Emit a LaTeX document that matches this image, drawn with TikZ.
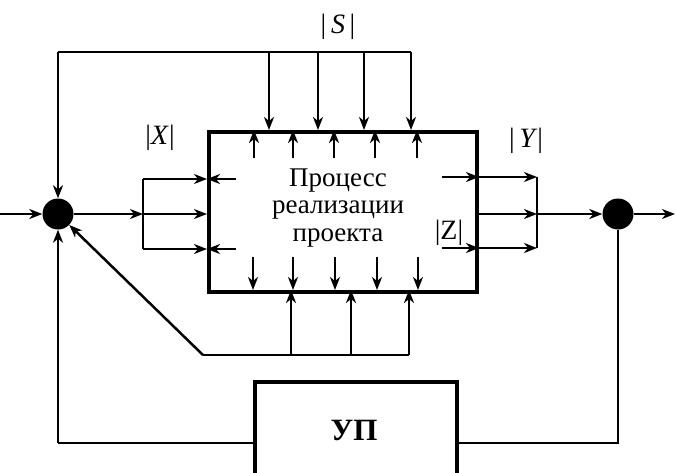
\documentclass[tikz,border=0pt]{standalone}
\usepackage{fontspec}
\setmainfont{Liberation Serif}
\usetikzlibrary{arrows.meta}
\begin{document}
\begin{tikzpicture}[x=1pt,y=-1pt,
  ln/.style={line width=2.5pt},
  arr/.style={line width=2.5pt,-{Stealth[length=13pt,width=10pt,inset=4pt]}},
  dot/.style={circle,fill=black,minimum size=31pt,inner sep=0pt},
  lbl/.style={font=\fontsize{28}{28}\selectfont,inner sep=0pt}]
\useasboundingbox (0,0) rectangle (675,472);
% main box
\node[draw,line width=4pt,minimum width=268pt,minimum height=160pt,anchor=north west,inner sep=0pt] (proc) at (207,130) {};
\node[font=\fontsize{27}{27.5}\selectfont,align=center,inner sep=0pt] (txt) at (338,208) {Процесс\\реализации\\проекта};
% circles
\node[dot] (c1) at (58,214) {};
\node[dot] (c2) at (618,214) {};
% control box
\node[draw,line width=4pt,minimum width=202pt,minimum height=100pt,anchor=north west,inner sep=0pt] (up) at (253,380) {};
\node[font=\fontsize{31}{31}\selectfont\bfseries,inner sep=0pt] (uptxt) at (354,430) {УП};
% labels
\node[lbl] (lS) at (338,27) {|\,\textit{S}\,|};
\node[lbl] (lX) at (160,138) {|\textit{X}|};
\node[lbl] (lY) at (526,141) {|\,\textit{Y}|};
\node[lbl] (lZ) at (449,233) {|Z|};
% coordinates
\coordinate (in) at (0,214);
\coordinate (out) at (675,214);
\coordinate (tl) at (58,52);
\coordinate (tr) at (411,52);
\coordinate (bl) at (203,355);
\coordinate (br) at (409,355);
\coordinate (lb) at (143,214);
\coordinate (lbt) at (143,179);
\coordinate (lbb) at (143,249);
\coordinate (rb) at (537,214);
\coordinate (rbt) at (537,177);
\coordinate (rbb) at (537,248);
\coordinate (ulc) at (58,443);
\coordinate (urc) at (618,443);
% input / output
\draw[arr] (in) -- (c1);
\draw[arr] (c2) -- (out);
% top feedback line and S inputs
\draw[ln] (tr) -- (tl);
\draw[arr] (tl) -- (c1);
\foreach \x in {269,318,364,411} \draw[arr] (\x,52) -- (\x,130);
\foreach \x in {254,293,334,375,417} \draw[arr] (\x,158) -- (\x,130);
% left X inputs
\draw[arr] (c1) -- (lb);
\draw[ln] (lbt) -- (lbb);
\draw[arr] (lbt) -- (proc.west |- lbt);
\draw[arr] (lb) -- (proc.west |- lb);
\draw[arr] (lbb) -- (proc.west |- lbb);
\draw[arr] (236,179) -- (proc.west |- lbt);
\draw[arr] (236,249) -- (proc.west |- lbb);
% bottom disturbances
\draw[ln] (br) -- (bl);
\draw[arr] (bl) -- (c1);
\foreach \x in {291,351,409} \draw[arr] (\x,355) -- (\x,290);
\foreach \x in {253,293,335,377,418} \draw[arr] (\x,257) -- (\x,290);
% right Y outputs
\draw[arr] (442,177) -- (proc.east |- rbt);
\draw[arr] (442,248) -- (proc.east |- rbb);
\draw[arr] (proc.east |- rbt) -- (rbt);
\draw[arr] (proc.east |- rb) -- (rb);
\draw[arr] (proc.east |- rbb) -- (rbb);
\draw[ln] (rbt) -- (rbb);
\draw[arr] (rb) -- (c2);
% control loop
\draw[ln] (c2) -- (urc) -- (up.east |- urc);
\draw[ln] (up.west |- ulc) -- (ulc);
\draw[arr] (ulc) -- (c1);
\end{tikzpicture}
\end{document}
